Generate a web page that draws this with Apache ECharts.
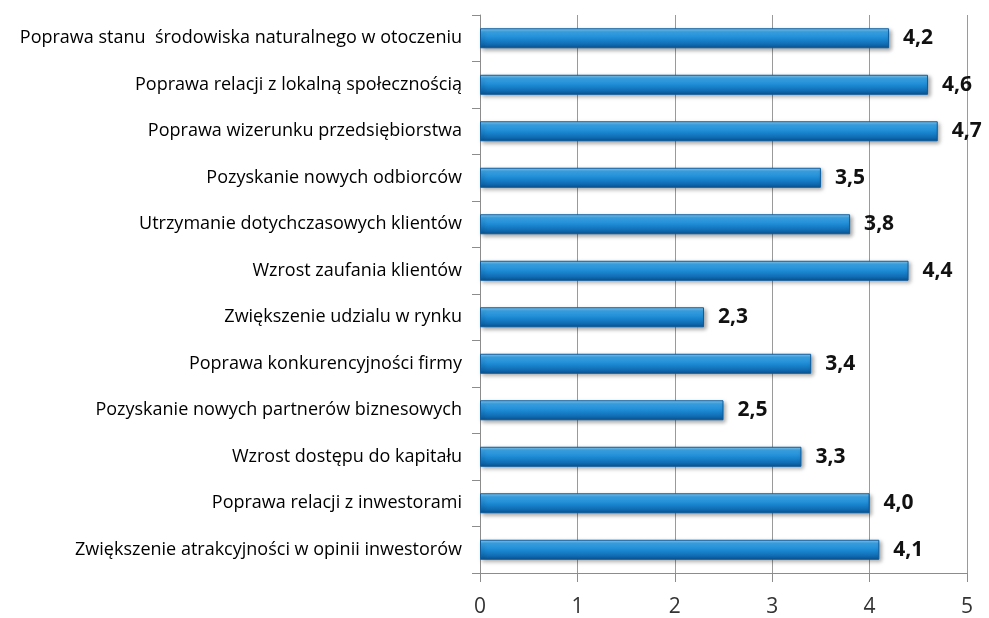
<!DOCTYPE html>
<html>
<head>
<meta charset="utf-8">
<script src="https://cdn.jsdelivr.net/npm/echarts@6/dist/echarts.min.js"></script>
<style>
  html, body { margin: 0; padding: 0; background: #fff; }
  #chart { width: 989px; height: 618px; }
</style>
</head>
<body>
<div id="chart"></div>
<script>
// Categories, listed top to bottom
const categories = [
  'Poprawa stanu  środowiska naturalnego w otoczeniu',
  'Poprawa relacji z lokalną społecznością',
  'Poprawa wizerunku przedsiębiorstwa',
  'Pozyskanie nowych odbiorców',
  'Utrzymanie dotychczasowych klientów',
  'Wzrost zaufania klientów',
  'Zwiększenie udzialu w rynku',
  'Poprawa konkurencyjności firmy',
  'Pozyskanie nowych partnerów biznesowych',
  'Wzrost dostępu do kapitału',
  'Poprawa relacji z inwestorami',
  'Zwiększenie atrakcyjności w opinii inwestorów'
];

// Mean scores for each category
const scores = [4.2, 4.6, 4.7, 3.5, 3.8, 4.4, 2.3, 3.4, 2.5, 3.3, 4.0, 4.1];

// Value axis ticks
const axisMin = 0;
const axisMax = 5;
const axisStep = 1;

const chart = echarts.init(document.getElementById('chart'));

const barFill = new echarts.graphic.LinearGradient(0, 0, 0, 1, [
  { offset: 0, color: '#8fd0f7' },
  { offset: 0.18, color: '#3aa5e8' },
  { offset: 0.55, color: '#1a86d0' },
  { offset: 0.85, color: '#0f67ad' },
  { offset: 1, color: '#0a4f88' }
]);

chart.setOption({
  animation: false,
  grid: { left: 480, right: 22, top: 15, bottom: 43, containLabel: false },
  xAxis: {
    type: 'value',
    min: axisMin,
    max: axisMax,
    interval: axisStep,
    axisLine: { show: true, lineStyle: { color: '#8c8c8c', width: 1 } },
    axisTick: { show: true, length: 9, lineStyle: { color: '#8c8c8c' } },
    axisLabel: {
      margin: 24,
      fontSize: 21,
      color: '#333',
      fontFamily: '"Open Sans", sans-serif'
    },
    splitLine: { show: true, lineStyle: { color: '#9a9a9a', width: 1 } }
  },
  yAxis: {
    type: 'category',
    data: categories,
    inverse: true,
    axisLine: { show: true, lineStyle: { color: '#8c8c8c', width: 1 } },
    axisTick: { show: true, length: 8, lineStyle: { color: '#8c8c8c' } },
    axisLabel: {
      margin: 18,
      fontSize: 18,
      color: '#000',
      fontFamily: '"Open Sans", sans-serif'
    }
  },
  series: [{
    type: 'bar',
    data: scores,
    barWidth: 20,
    itemStyle: {
      color: barFill,
      borderColor: '#0c5c9e',
      borderWidth: 1,
      shadowColor: 'rgba(0,0,0,0.35)',
      shadowBlur: 4,
      shadowOffsetX: 2,
      shadowOffsetY: 2
    },
    label: {
      show: true,
      position: 'right',
      distance: 14,
      fontSize: 21,
      fontWeight: 'bold',
      color: '#111',
      fontFamily: '"Open Sans", sans-serif',
      formatter: p => p.value.toFixed(1).replace('.', ',')
    }
  }]
});
</script>
</body>
</html>
